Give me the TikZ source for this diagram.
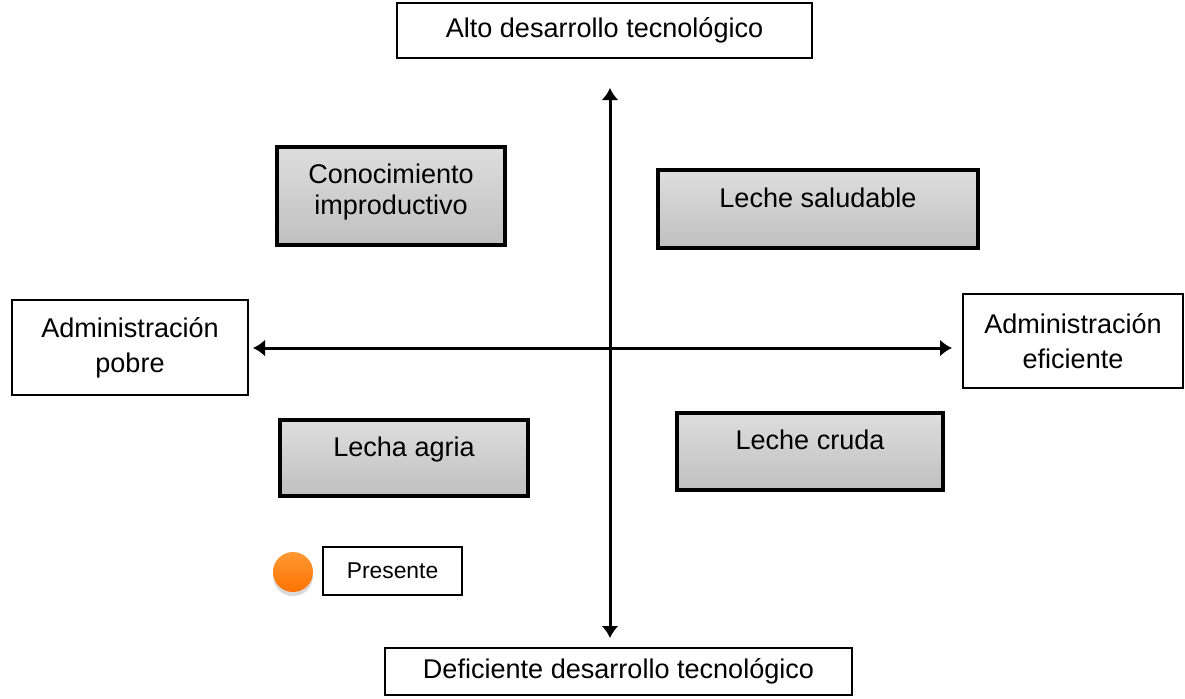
\documentclass[tikz,border=0pt]{standalone}
\usepackage{fontspec}
\setmainfont{Liberation Sans}
\usetikzlibrary{arrows.meta,shadows}

\begin{document}
\begin{tikzpicture}[>={Latex[length=2.4mm,width=3.4mm]}, line width=1.7pt]
    \tikzstyle{axis label}=[draw=black,line width=0.6pt,fill=white,align=center,font=\fontsize{15.4}{20}\selectfont]
    \tikzstyle{quadrant}=[draw=black,line width=1.8pt,top color=black!13,bottom color=black!25,align=center,font=\fontsize{15.4}{17.5}\selectfont,text depth=13pt]
    \tikzstyle{legend}=[draw=black,line width=0.8pt,fill=white,font=\fontsize{13}{16}\selectfont,minimum width=2.78cm,minimum height=0.96cm]
    \tikzstyle{marker}=[circle,draw=none,minimum size=0.8cm,top color=orange!80!white,bottom color=orange!90!red,drop shadow={shadow xshift=0pt,shadow yshift=-0.08cm,opacity=0.3}]
	\def\midx{12.2}
	\def\midy{-6.96}

    \useasboundingbox (0,0) rectangle (23.7,-13.96);

    % Draw the axis labels
    \node[axis label,minimum width=8.3cm,minimum height=1.1cm] (alto) at (12.09,-0.61) {Alto desarrollo tecnológico};
    \node[axis label,minimum width=9.34cm,minimum height=0.94cm] (deficiente) at (12.37,-13.43) {Deficiente desarrollo tecnológico};
    \node[axis label,minimum width=4.72cm,minimum height=1.9cm] (pobre) at (2.6,-6.95) {Administración\\pobre};
    \node[axis label,minimum width=4.4cm,minimum height=1.88cm] (eficiente) at (21.46,-6.82) {Administración\\eficiente};

    % Draw the quadrant boxes
    \node[quadrant,minimum width=4.56cm,minimum height=1.96cm,text depth=8pt] (conocimiento) at (7.82,-3.92) {Conocimiento\\improductivo};
    \node[quadrant,minimum width=6.4cm,minimum height=1.56cm] (saludable) at (16.36,-4.18) {Leche saludable};
    \node[quadrant,minimum width=4.96cm,minimum height=1.52cm] (agria) at (8.08,-9.16) {Lecha agria};
    \node[quadrant,minimum width=5.32cm,minimum height=1.54cm] (cruda) at (16.2,-9.03) {Leche cruda};

    % Draw the legend
    \node[marker] (punto) at (5.86,-11.44) {};
    \node[legend] (presente) at (7.85,-11.42) {Presente};

    % Ends of the two axes
    \coordinate (y-top) at (\midx,-1.76);
    \coordinate (y-bottom) at (\midx,-12.76);
    \coordinate (x-left) at (5.06,\midy);
    \coordinate (x-right) at (19.04,\midy);

    % Draw the axes
    \draw[<->] (y-bottom) -- (y-top);
    \draw[<->] (x-left) -- (x-right);

\end{tikzpicture}
\end{document}
